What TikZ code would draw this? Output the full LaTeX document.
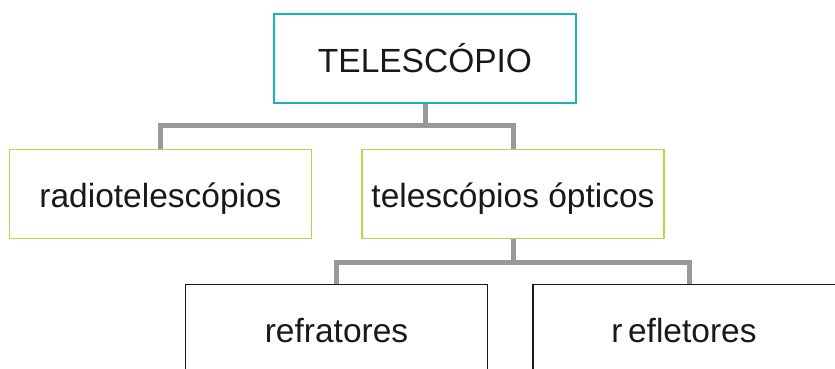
\documentclass[tikz,border=0pt]{standalone}
\usepackage{fontspec}
\setmainfont{Liberation Sans}
\usepackage{xcolor}
\usepackage{tikz}
\usetikzlibrary{positioning}

\definecolor{boxcyan}{RGB}{25,178,190}
\definecolor{boxlime}{RGB}{188,212,72}
\definecolor{linkgray}{RGB}{152,152,158}

\tikzset{
    conceptbox/.style={draw, line width=1.8pt, minimum width=302pt, minimum height=89pt,
        inner sep=0pt, text height=27pt, text depth=0pt,
        font=\fontsize{33.5}{40}\selectfont, text=black!90},
    link/.style={draw=linkgray, line width=5pt}
}

\begin{document}
\begin{tikzpicture}[x=1pt,y=1pt]
        % canvas
        \useasboundingbox (0,0) rectangle (835,-369);
        \clip (0,0) rectangle (835,-369);

        % boxes
        \node[conceptbox, draw=boxcyan] (tel) at (425,-58.5) {TELESCÓPIO};
        \node[conceptbox, draw=boxlime] (radio) at (160.5,-194) {radiotelescópios};
        \node[conceptbox, draw=boxlime] (opt) at (513,-194) {telescópios ópticos};
        \node[conceptbox, draw=black!90] (refr) at (336.5,-329) {refratores};
        \node[conceptbox, draw=black!90, minimum width=312pt] (refl) at (689,-329) {\hspace*{-10pt}r\,efletores};

        % connectors
        \coordinate (top joint) at ([yshift=-22pt]tel.south);
        \coordinate (low joint) at ([yshift=-23pt]opt.south);
        \draw[link] (tel.south) -- (top joint);
        \foreach \child in {radio,opt}
        \draw[link] (top joint) -| (\child.north);
        \draw[link] (opt.south) -- (low joint);
        \foreach \child in {refr,refl}
        \draw[link] (low joint) -| (\child.north);
\end{tikzpicture}
\end{document}
